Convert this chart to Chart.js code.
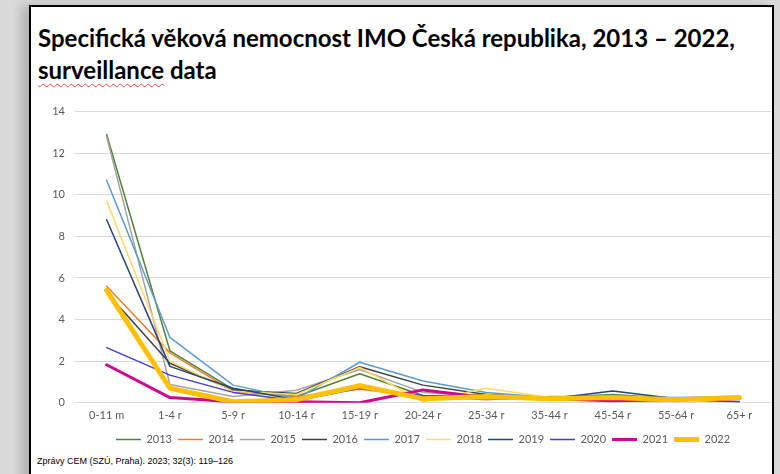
<!DOCTYPE html>
<html>
<head>
<meta charset="utf-8">
<script src="https://cdn.jsdelivr.net/npm/chart.js@4/dist/chart.umd.min.js"></script>
<style>
  body { margin: 0; width: 780px; height: 474px; background: #dadada; overflow: hidden; position: relative; font-family: Lato, "Noto Sans", sans-serif; }
  #box { position: absolute; left: 29px; top: 5px; width: 741px; height: 480px; background: #fff; border: 2px solid #000; border-bottom: none; box-shadow: -8px 0 10px rgba(0,0,0,0.18); }
  #title { position: absolute; left: 38px; top: 22px; font-weight: bold; font-size: 24px; line-height: 32px; color: #000; white-space: nowrap; }
  #title .sp { text-decoration: underline wavy #e04848; text-decoration-thickness: 1px; text-underline-offset: 4px; }
  #wrap { position: absolute; left: 31px; top: 95px; width: 742px; height: 360px; }
  #footer { position: absolute; left: 37px; top: 456px; font-family: "Liberation Sans Narrow", "Liberation Sans", sans-serif; font-size: 9px; color: #000; }
</style>
</head>
<body>
<div id="box"></div>
<div id="title">Specifická věková nemocnost IMO Česká republika, 2013 – 2022,<br><span class="sp">surveillance</span> data</div>
<div id="wrap"><canvas id="myChart"></canvas></div>
<div id="footer">Zprávy CEM (SZÚ, Praha). 2023; 32(3): 119–126</div>
<script>
const ageGroups = ['0-11 m', '1-4 r', '5-9 r', '10-14 r', '15-19 r', '20-24 r', '25-34 r', '35-44 r', '45-54 r', '55-64 r', '65+ r'];
const years = ['2013', '2014', '2015', '2016', '2017', '2018', '2019', '2020', '2021', '2022'];

const y2013 = [12.9, 2.5, 0.65, 0.3, 1.4, 0.35, 0.3, 0.25, 0.4, 0.2, 0.25];
const y2014 = [5.6, 2.4, 0.55, 0.3, 0.65, 0.3, 0.15, 0.3, 0.3, 0.2, 0.25];
const y2015 = [12.8, 0.88, 0.3, 0.6, 1.6, 0.5, 0.3, 0.25, 0.35, 0.2, 0.25];
const y2016 = [5.3, 1.9, 0.6, 0.45, 1.73, 0.85, 0.4, 0.25, 0.35, 0.2, 0.25];
const y2017 = [10.7, 3.15, 0.85, 0.2, 1.95, 1.05, 0.5, 0.25, 0.3, 0.25, 0.3];
const y2018 = [9.7, 2.0, 0.55, 0.4, 1.7, 0.05, 0.7, 0.25, 0.3, 0.2, 0.25];
const y2019 = [8.8, 1.75, 0.7, 0.15, 0.75, 0.3, 0.4, 0.2, 0.57, 0.2, 0.2];
const y2020 = [2.65, 1.33, 0.5, 0.1, 0.7, 0.35, 0.3, 0.2, 0.2, 0.15, 0.05];
const y2021 = [1.83, 0.25, 0.05, 0.05, 0.0, 0.62, 0.25, 0.2, 0.1, 0.15, 0.2];
const y2022 = [5.4, 0.7, 0.05, 0.15, 0.82, 0.2, 0.3, 0.2, 0.25, 0.15, 0.25];

const series = [y2013, y2014, y2015, y2016, y2017, y2018, y2019, y2020, y2021, y2022];
const colors = ['#548235', '#ED7D31', '#A5A5A5', '#404040', '#5B9BD5', '#FFD966', '#264478', '#3F3FD0', '#D0068F', '#FFC000'];
const widths = [1.5, 1.5, 1.5, 1.5, 1.5, 1.5, 1.5, 1.5, 3, 5];

// later years drawn on top (lower order = drawn last)
const datasets = series.map((data, i) => ({
  label: years[i],
  data,
  borderColor: colors[i],
  backgroundColor: colors[i],
  borderWidth: widths[i],
  borderCapStyle: 'round',
  borderJoinStyle: 'round',
  pointRadius: 0,
  tension: 0,
  order: years.length - i
}));

new Chart(document.getElementById('myChart'), {
  type: 'line',
  data: { labels: ageGroups, datasets },
  options: {
    responsive: true,
    maintainAspectRatio: false,
    animation: false,
    layout: { padding: { top: 16, right: 2, left: 0, bottom: 0 } },
    scales: {
      x: {
        offset: true,
        grid: { display: false, drawTicks: false },
        border: { display: false },
        ticks: { color: '#595959', font: { family: 'Lato', size: 11 }, padding: 6, maxRotation: 0 }
      },
      y: {
        min: 0,
        max: 14,
        ticks: { stepSize: 2, color: '#595959', font: { family: 'Lato', size: 11 }, padding: 10 },
        grid: { color: '#d9d9d9', drawTicks: false },
        border: { display: false },
        afterFit: (scale) => { scale.width = 44; }
      }
    },
    plugins: {
      legend: {
        position: 'bottom',
        fullSize: false,
        labels: {
          usePointStyle: true,
          pointStyle: 'line',
          pointStyleWidth: 25,
          color: '#595959',
          font: { family: 'Lato', size: 11 },
          padding: 6,
          sort: (a, b) => a.datasetIndex - b.datasetIndex
        }
      },
      tooltip: { enabled: false }
    }
  }
});
</script>
</body>
</html>
